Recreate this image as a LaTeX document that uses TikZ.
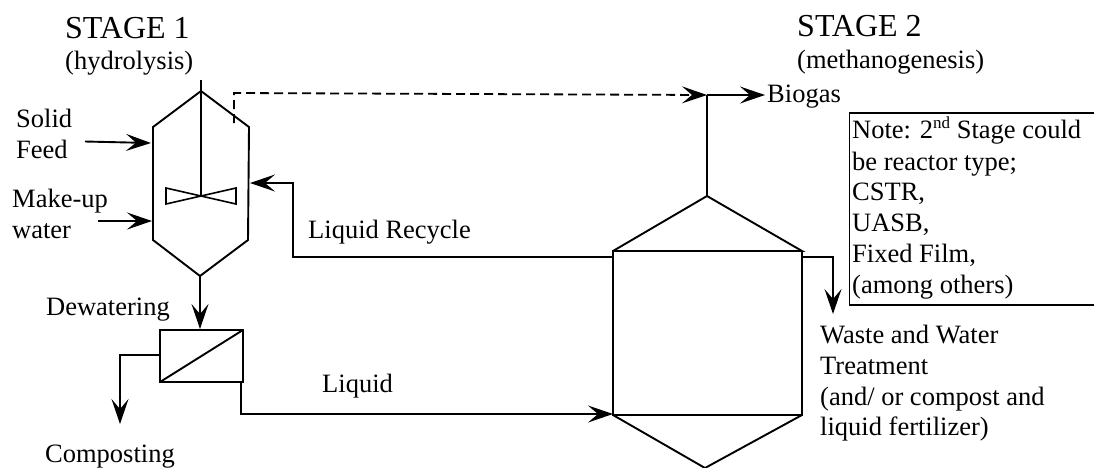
\documentclass[tikz,border=0pt]{standalone}
\usepackage{fontspec}
\setmainfont{Liberation Serif}
\usetikzlibrary{arrows.meta}
\tikzset{
 lbl/.style={anchor=base west,inner sep=0pt,font=\fontsize{26.5}{31}\selectfont,text=black},
 big/.style={anchor=base west,inner sep=0pt,font=\fontsize{32}{36}\selectfont,text=black},
 ln/.style={line width=1.9pt,line join=miter},
 arr/.style={ln,-{Stealth[length=25pt,width=17pt,inset=10pt]}},
 dsh/.style={arr,line width=1.8pt,dash pattern=on 9pt off 5pt},
}
\newcommand{\supnd}{\raisebox{10pt}{\fontsize{17}{17}\selectfont nd}}
\begin{document}
\begin{tikzpicture}[x=1pt,y=-1pt]
\useasboundingbox (0,0) rectangle (1094,467);
\clip (0,0) rectangle (1094,467);
% reactor 1
\coordinate (r1stick) at (201,80);
\coordinate (r1top) at (201,91);
\coordinate (r1l) at (153,127);
\coordinate (r1r) at (249,127);
\coordinate (r1bl) at (153,240);
\coordinate (r1br) at (248,240);
\coordinate (r1bot) at (200,276);
\coordinate (hub) at (201,196);
\coordinate (gasout) at (234,123);
\coordinate (gasup) at (234,93);
\coordinate (junc) at (707,95);
\draw[ln] (r1top)--(r1l)--(r1bl)--(r1bot)--(r1br)--(r1r)--cycle;
\draw[ln] (r1stick)--(hub);
\draw[ln,line width=1.6pt] (hub)--(166,188)--(166,204)--cycle (hub)--(236,188)--(236,204)--cycle;
% stage 2 reactor
\coordinate (r2top) at (707,196);
\coordinate (r2tl) at (613,251);
\coordinate (r2tr) at (802,251);
\coordinate (r2bl) at (613,415);
\coordinate (r2br) at (802,415);
\coordinate (r2bot) at (705,468);
\draw[ln] (r2tl)--(r2top)--(r2tr)--(r2tl)--(r2bl)--(r2br)--(r2tr);
\draw[ln] (r2bl)--(r2bot)--(r2br);
% dewatering
\coordinate (dwtl) at (160,330);
\coordinate (dwtr) at (243,330);
\coordinate (dwbl) at (160,382);
\coordinate (dwbr) at (243,382);
\draw[ln] (dwtl)--(dwtr)--(dwbr)--(dwbl)--cycle (dwbl)--(dwtr);
% connectors
\coordinate (biogas) at (765,95);
\draw[dsh] (gasout)--(gasup)--(junc);
\draw[ln] (r2top)--(junc);
\draw[arr] (junc)--(biogas);
\coordinate (sf) at (85,141.5);
\coordinate (sft) at (151,143);
\draw[arr] (sf)--(sft);
\coordinate (mu) at (98,221);
\coordinate (mut) at (152,221);
\draw[arr] (mu)--(mut);
\coordinate (recy) at (250,183);
\draw[arr] (r2tl|-0,257)--(293,257)--(293,183)--(recy);
\draw[arr] (r1bot)--(200,329);
\draw[arr] (160,355)--(120,355)--(120,424);
\draw[arr] (241,382)--(241,414)--(r2bl|-0,414);
\draw[arr] (802,257)--(833,257)--(833,314);
% note box, open at the picture's right edge
\draw[ln] (1096,113)--(849.5,113)--(849.5,305)--(1096,305);
% labels
\node[big] (s1) at (65,38) {STAGE 1};
\node[lbl] (s1b) at (65,69) {(hydrolysis)};
\node[big] (s2) at (797,36) {STAGE 2};
\node[lbl] (s2b) at (797,68) {(methanogenesis)};
\node[lbl] (sa) at (16,127) {Solid};
\node[lbl] (sb) at (16,158) {Feed};
\node[lbl] (ma) at (12,207) {Make-up};
\node[lbl] (mb) at (12,238) {water};
\node[lbl] (de) at (46,315) {Dewatering};
\node[lbl] (co) at (45,462) {Composting};
\node[lbl] (li) at (322,392) {Liquid};
\node[lbl] (lr) at (308,238) {Liquid Recycle};
\node[lbl] (bg) at (767,102) {Biogas};
\node[lbl] (n1) at (852,138) {Note: 2\supnd{} Stage could};
\node[lbl] (n2) at (852,170) {be reactor type;};
\node[lbl] (n3) at (852,200) {CSTR,};
\node[lbl] (n4) at (852,231) {UASB,};
\node[lbl] (n5) at (852,262) {Fixed Film,};
\node[lbl] (n6) at (852,293) {(among others)};
\node[lbl] (w1) at (820,343) {Waste and Water};
\node[lbl] (w2) at (820,374) {Treatment};
\node[lbl] (w3) at (820,405) {(and/ or compost and};
\node[lbl] (w4) at (820,435) {liquid fertilizer)};
\end{tikzpicture}
\end{document}
